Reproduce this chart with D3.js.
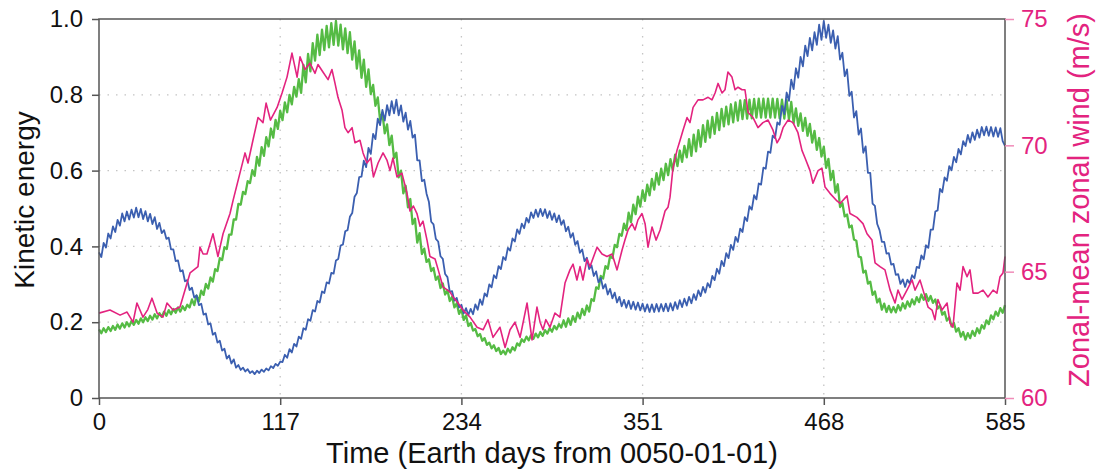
<!DOCTYPE html>
<html>
<head>
<meta charset="utf-8">
<script src="https://cdn.jsdelivr.net/npm/d3@7"></script>
<style>
  body { margin: 0; background: #fff; }
  svg { display: block; font-family: "Liberation Sans", Arial, sans-serif; }
</style>
</head>
<body>
<svg id="chart"></svg>
<script>
// axis ticks
const dayTicks = [0, 117, 234, 351, 468, 585];
const keTicks = [0, 0.2, 0.4, 0.6, 0.8, 1.0];
const windTicks = [60, 65, 70, 75];

// kinetic energy, one value every 1.5 days from day 0 to 585
const blueKE = [
  .384,.372,.409,.397,.434,.421,.453,.438,.470,.455,.487,.466,.492,.471,.497,.476,.502,.477,.499,.472,
  .493,.466,.486,.459,.477,.446,.462,.435,.443,.420,.423,.392,.392,.361,.363,.334,.337,.308,.311,.285,
  .291,.265,.271,.245,.249,.220,.223,.194,.197,.167,.172,.146,.151,.125,.130,.104,.112,.091,.102,.080,
  .087,.074,.080,.070,.076,.066,.071,.063,.072,.066,.075,.069,.078,.073,.084,.079,.090,.085,.096,.095,
  .114,.106,.129,.120,.143,.136,.162,.156,.184,.180,.208,.204,.232,.228,.256,.252,.281,.277,.305,.302,
  .330,.328,.363,.367,.402,.405,.440,.443,.478,.488,.531,.541,.583,.584,.626,.609,.660,.644,.697,.683,
  .737,.720,.760,.732,.773,.746,.783,.751,.787,.746,.772,.729,.753,.708,.731,.687,.695,.627,.627,.572,
  .576,.539,.518,.465,.458,.420,.413,.374,.367,.327,.319,.280,.282,.257,.264,.239,.246,.223,.237,.219,
  .235,.221,.247,.233,.260,.246,.276,.268,.300,.292,.324,.316,.348,.340,.372,.364,.396,.389,.421,.413,
  .445,.433,.460,.448,.475,.463,.490,.475,.497,.478,.499,.480,.498,.475,.493,.470,.487,.464,.482,.457,
  .469,.440,.452,.423,.435,.404,.414,.383,.392,.361,.370,.340,.350,.322,.334,.305,.317,.289,.300,.273,
  .288,.263,.278,.252,.267,.242,.259,.238,.257,.235,.254,.233,.252,.231,.249,.228,.247,.227,.247,.227,
  .248,.228,.248,.229,.249,.229,.250,.231,.253,.235,.258,.240,.262,.244,.267,.250,.274,.259,.284,.269,
  .293,.278,.303,.292,.322,.311,.341,.328,.362,.348,.382,.369,.404,.391,.425,.412,.447,.438,.477,.467,
  .506,.497,.535,.524,.566,.563,.608,.605,.650,.647,.692,.686,.727,.721,.771,.749,.806,.784,.840,.815,
  .870,.845,.900,.875,.930,.902,.950,.917,.965,.932,.985,.945,.995,.950,.985,.937,.970,.922,.955,.893,
  .911,.849,.867,.797,.808,.740,.757,.695,.711,.647,.664,.594,.594,.513,.507,.459,.443,.412,.412,.381,
  .382,.352,.354,.325,.327,.301,.313,.293,.312,.302,.324,.316,.346,.343,.376,.366,.403,.396,.444,.444,
  .492,.495,.552,.543,.582,.573,.612,.601,.636,.622,.657,.643,.678,.665,.694,.674,.701,.681,.708,.687,
  .715,.693,.716,.692,.715,.690,.714,.689,.712,.678,.665
];

const greenKE = [
  .181,.171,.184,.174,.187,.177,.190,.180,.194,.183,.197,.186,.200,.189,.203,.193,.206,.196,.210,.200,
  .213,.203,.217,.207,.221,.210,.224,.214,.228,.217,.232,.221,.235,.225,.239,.228,.242,.232,.246,.239,
  .260,.245,.270,.255,.283,.272,.301,.289,.318,.307,.340,.335,.369,.364,.398,.393,.431,.431,.471,.471,
  .512,.510,.544,.538,.572,.567,.601,.586,.636,.613,.662,.639,.688,.664,.711,.687,.734,.710,.758,.733,
  .780,.754,.800,.775,.821,.795,.841,.805,.879,.833,.908,.862,.936,.890,.959,.905,.972,.918,.982,.925,
  .989,.932,.995,.930,.985,.920,.975,.910,.965,.893,.941,.869,.917,.845,.893,.821,.867,.802,.826,.771,
  .793,.733,.753,.698,.722,.667,.692,.633,.647,.582,.600,.540,.560,.503,.525,.459,.473,.410,.435,.380,
  .394,.359,.366,.335,.343,.312,.321,.290,.302,.273,.284,.256,.267,.239,.250,.222,.234,.206,.218,.190,
  .198,.178,.182,.163,.169,.151,.158,.140,.146,.131,.139,.124,.132,.116,.125,.115,.130,.120,.134,.126,
  .144,.138,.155,.148,.162,.152,.166,.156,.170,.160,.174,.164,.179,.170,.184,.175,.190,.181,.195,.186,
  .205,.188,.210,.193,.216,.201,.225,.210,.235,.219,.244,.228,.261,.256,.292,.288,.322,.315,.348,.341,
  .374,.369,.404,.398,.433,.428,.460,.443,.489,.464,.510,.485,.531,.505,.548,.520,.563,.535,.578,.550,
  .593,.563,.605,.575,.618,.588,.630,.600,.642,.612,.653,.623,.665,.635,.683,.639,.695,.651,.707,.663,
  .720,.676,.732,.687,.742,.697,.752,.707,.763,.717,.769,.722,.775,.727,.780,.732,.785,.736,.786,.737,
  .787,.738,.789,.740,.790,.740,.790,.740,.790,.740,.790,.740,.789,.738,.787,.737,.786,.735,.781,.725,
  .764,.718,.751,.705,.739,.692,.723,.674,.705,.655,.686,.637,.663,.607,.631,.575,.599,.542,.564,.504,
  .514,.479,.484,.450,.455,.418,.415,.373,.371,.331,.336,.302,.307,.272,.281,.252,.262,.233,.249,.227,
  .243,.226,.240,.226,.245,.231,.250,.236,.255,.241,.260,.247,.266,.253,.273,.259,.274,.256,.269,.251,
  .260,.236,.244,.220,.227,.204,.213,.189,.198,.175,.184,.162,.174,.154,.171,.158,.177,.164,.184,.171,
  .192,.183,.205,.195,.218,.208,.228,.217,.237,.225,.245
];

// zonal-mean zonal wind (m/s)
const windDays = [
  0,7.1,13.6,18.1,22,24.5,28.4,31.5,34.2,37.5,
  41.3,43.9,47.8,52.3,54.2,58.8,63.9,65.2,67.2,69.7,
  73.6,76.8,80.1,84.6,86.5,91,94.3,96.2,99.4,102.7,
  105.9,107.9,110.7,115,118.2,121.4,124.6,127.9,129.8,133,
  136.2,139.5,141.4,144.6,147.9,150.4,152.4,154.3,156.9,158.8,
  160.8,163.4,165.3,168.5,170.5,173,175.5,177.2,180.2,183.4,
  186,187.9,189.8,192.4,195.6,198.9,200.8,203,205.3,207.3,
  209.2,211.8,213.7,217,218.9,222.1,226.6,228.6,231.8,235,
  239.6,244.1,248,251.2,254.4,258.9,262.2,265.4,268.6,271.9,
  276.4,279.6,282.8,284.8,286.7,288.5,291.2,294.4,297.6,300.9,
  304.1,306.1,308.6,310.6,312.5,315.1,317,321.6,324.8,328,
  331.3,334.5,337.7,339.6,341.6,344.2,346.1,348,350.6,352.6,
  354.5,357.1,359.7,362.3,365.5,367.4,368.7,370.6,373.2,375.2,
  377.1,379.7,381.6,383.6,386.8,390,393.3,395.8,397.8,399.7,
  402.3,404.2,406.1,408.7,410.7,412.6,415.2,417.1,419.1,422.3,
  425.5,428.7,432,435.2,437.8,439.7,441.7,444.9,448.1,451.3,
  453.9,455.9,459.1,461,464.3,466.8,468.8,472,476.5,478.5,
  483,484.9,489.4,493.3,495.9,499.1,501.1,504.3,507.5,510.8,
  514,515.9,518.5,521.7,525,526.9,530.1,532.1,535.3,537.9,
  539.8,541.7,544.3,547.6,549.5,551.4,554,556,557.9,560.5,
  562.4,564.4,567.6,570.8,574,577.3,579.8,581.8,583.7,585
];
const windSpeed = [
  63.36,63.48,63.28,63.4,63.0,63.76,63.2,63.5,63.95,63.36,
  63.2,63.76,63.48,63.6,64.0,64.95,65.2,65.97,65.7,65.7,
  66.5,65.6,66.5,67.3,67.8,68.9,69.7,69.3,70.2,71.1,
  70.9,71.67,71.0,71.5,72.07,72.7,73.65,72.7,73.5,73.0,
  73.25,72.85,73.2,72.9,72.6,73.0,72.45,71.9,71.4,70.7,
  70.5,70.7,70.1,70.2,69.7,69.3,69.5,68.75,69.3,69.7,
  69.4,69.0,69.5,68.75,68.9,68.1,67.4,67.6,67.3,66.8,
  67.0,66.25,65.6,65.5,65.1,64.4,64.2,64.0,63.76,63.48,
  63.2,62.8,62.7,63.1,62.4,62.8,62.0,62.7,63.0,62.4,
  63.76,62.3,63.6,63.0,62.7,63.1,62.8,63.36,63.2,64.55,
  65.07,65.3,64.67,65.2,64.67,65.5,65.2,65.97,65.7,65.6,
  65.7,65.07,65.85,66.25,66.65,66.9,66.65,67.05,67.3,66.9,
  65.97,66.77,66.25,66.65,67.4,67.55,67.95,69.1,69.8,70.2,
  70.6,71.1,70.9,71.5,71.8,71.8,71.9,71.8,72.07,72.45,
  72.07,72.2,72.9,72.7,72.2,72.3,72.2,72.2,71.3,71.1,
  70.7,70.9,71.0,70.6,70.1,70.3,70.7,71.0,70.9,70.5,
  69.8,69.5,69.0,68.5,69.0,69.1,68.35,68.1,67.8,67.7,
  68.0,67.3,67.15,66.9,66.5,66.25,65.35,65.2,65.07,64.27,
  63.76,64.27,63.9,64.27,64.67,64.27,64.67,64.27,63.6,63.48,
  63.1,63.9,63.48,63.76,62.97,62.8,64.55,64.27,65.2,64.8,
  65.07,64.15,64.15,64.27,64.0,64.27,64.15,64.8,64.95,65.6
];

const width = 1099, height = 470;
const margin = {top: 19, right: 94, bottom: 72, left: 99};
const blueColor = "#3b5fb0", greenColor = "#55bb44", pink = "#e3237f";

let svg = d3.select("#chart")
  .attr("width", width)
  .attr("height", height);

let x = d3.scaleLinear()
  .domain([0, 585])
  .range([margin.left, width - margin.right]);

let yKE = d3.scaleLinear()
  .domain([0, 1])
  .range([height - margin.bottom, margin.top]);

let yWind = d3.scaleLinear()
  .domain([60, 75])
  .range([height - margin.bottom, margin.top]);

// dotted grid
let grid = svg.append("g")
  .attr("stroke", "#c4c4c4")
  .attr("stroke-width", 1.3)
  .attr("stroke-dasharray", "1.5,7");

grid.selectAll(".gy")
  .data(keTicks.slice(1, -1))
  .join("line")
    .attr("x1", x(0)).attr("x2", x(585))
    .attr("y1", d => yKE(d)).attr("y2", d => yKE(d));

grid.selectAll(".gx")
  .data(dayTicks.slice(1, -1))
  .join("line")
    .attr("x1", d => x(d)).attr("x2", d => x(d))
    .attr("y1", yKE(1)).attr("y2", yKE(0));

// series
let stepOf = arr => 585 / (arr.length - 1);
let keLine = d3.line()
  .x(d => x(d[0]))
  .y(d => yKE(d[1]));
let windLine = d3.line()
  .x(d => x(d[0]))
  .y(d => yWind(d[1]));

let greenPts = greenKE.map((v, i) => [i * stepOf(greenKE), v]);
let bluePts = blueKE.map((v, i) => [i * stepOf(blueKE), v]);
let windPts = d3.zip(windDays, windSpeed);

svg.append("path")
  .attr("d", keLine(greenPts))
  .attr("fill", "none")
  .attr("stroke", greenColor)
  .attr("stroke-width", 2.3)
  .attr("stroke-linejoin", "round");

svg.append("path")
  .attr("d", keLine(bluePts))
  .attr("fill", "none")
  .attr("stroke", blueColor)
  .attr("stroke-width", 1.8)
  .attr("stroke-linejoin", "round");

svg.append("path")
  .attr("d", windLine(windPts))
  .attr("fill", "none")
  .attr("stroke", pink)
  .attr("stroke-width", 1.6)
  .attr("stroke-linejoin", "round");

// frame
svg.append("rect")
  .attr("x", x(0)).attr("y", yKE(1))
  .attr("width", x(585) - x(0))
  .attr("height", yKE(0) - yKE(1))
  .attr("fill", "none")
  .attr("stroke", "#555")
  .attr("stroke-width", 1.5);

// axes
let leftAxis = svg.append("g")
  .attr("transform", `translate(${x(0)},0)`)
  .call(d3.axisLeft(yKE).tickValues(keTicks)
    .tickFormat(d => d === 0 ? "0" : d.toFixed(1))
    .tickSize(7).tickPadding(9));

let bottomAxis = svg.append("g")
  .attr("transform", `translate(0,${yKE(0)})`)
  .call(d3.axisBottom(x).tickValues(dayTicks)
    .tickFormat(d3.format("d"))
    .tickSize(7).tickPadding(8));

let rightAxis = svg.append("g")
  .attr("transform", `translate(${x(585)},0)`)
  .call(d3.axisRight(yWind).tickValues(windTicks)
    .tickSize(9).tickPadding(7));

[leftAxis, bottomAxis, rightAxis].forEach(g => {
  g.select(".domain").remove();
  g.selectAll("text")
    .attr("font-size", 24)
    .attr("font-family", "'Liberation Sans', Arial, sans-serif");
});
leftAxis.selectAll("line").attr("stroke", "#555").attr("stroke-width", 1.5);
bottomAxis.selectAll("line").attr("stroke", "#555").attr("stroke-width", 1.5);
leftAxis.selectAll("text").attr("fill", "#111");
bottomAxis.selectAll("text").attr("fill", "#111");
rightAxis.selectAll("line").attr("stroke", "#f08cb8").attr("stroke-width", 1.5);
rightAxis.selectAll("text").attr("fill", pink);

// axis titles
svg.append("text")
  .attr("x", (x(0) + x(585)) / 2)
  .attr("y", 463)
  .attr("text-anchor", "middle")
  .attr("font-size", 29)
  .attr("fill", "#111")
  .text("Time (Earth days from 0050-01-01)");

svg.append("text")
  .attr("transform", `translate(34,200) rotate(-90)`)
  .attr("text-anchor", "middle")
  .attr("font-size", 28)
  .attr("fill", "#111")
  .text("Kinetic energy");

svg.append("text")
  .attr("transform", `translate(1089,200) rotate(-90)`)
  .attr("text-anchor", "middle")
  .attr("font-size", 29)
  .attr("fill", pink)
  .text("Zonal-mean zonal wind (m/s)");
</script>
</body>
</html>
